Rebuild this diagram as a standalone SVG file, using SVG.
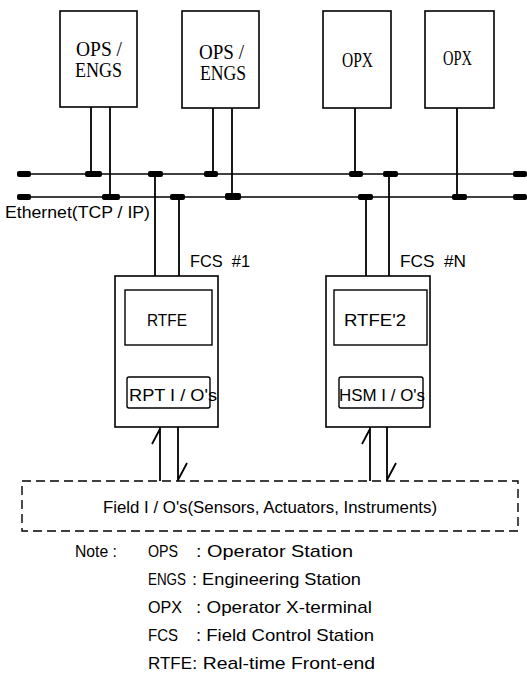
<svg xmlns="http://www.w3.org/2000/svg" width="527" height="680" viewBox="0 0 527 680">
<style>
.box{fill:#fff;stroke:#000;stroke-width:1.6}
.ibox{fill:none;stroke:#000;stroke-width:1.4}
.ln{stroke:#000;stroke-width:1.8;fill:none}
.bus{stroke:#000;stroke-width:1.4;fill:none}
.thin{stroke:#000;stroke-width:1.3;fill:none}
.tap{fill:#000}
.dash{fill:none;stroke:#000;stroke-width:1.4;stroke-dasharray:9 5}
.serif{font-family:"Liberation Serif","DejaVu Serif",serif;font-size:20px;fill:#000}
.sans{font-family:"Liberation Sans","DejaVu Sans",sans-serif;font-size:17px;fill:#000}
</style>
<g id="connectors">
  <line class="bus" x1="17" y1="174" x2="527" y2="174"/>
  <line class="bus" x1="17" y1="197" x2="527" y2="197"/>
  <rect class="tap" x="17" y="171" width="14" height="6" rx="2"/>
  <rect class="tap" x="17" y="194" width="14" height="6" rx="2"/>
  <rect class="tap" x="513" y="171" width="14" height="6" rx="2"/>
  <rect class="tap" x="513" y="194" width="14" height="6" rx="2"/>
  <rect class="tap" x="85" y="171" width="17" height="6" rx="2"/>
  <rect class="tap" x="148" y="171" width="15" height="6" rx="2"/>
  <rect class="tap" x="204" y="171" width="14" height="6" rx="2"/>
  <rect class="tap" x="349" y="171" width="14" height="6" rx="2"/>
  <rect class="tap" x="383" y="171" width="15" height="6" rx="2"/>
  <rect class="tap" x="102" y="194" width="18" height="6" rx="2"/>
  <rect class="tap" x="170" y="194" width="15" height="6" rx="2"/>
  <rect class="tap" x="225" y="193" width="16" height="7" rx="2"/>
  <rect class="tap" x="358" y="194" width="15" height="6" rx="2"/>
  <rect class="tap" x="452" y="194" width="15" height="6" rx="2"/>
  <line class="ln" x1="91" y1="107" x2="91" y2="174"/>
  <line class="ln" x1="110" y1="107" x2="110" y2="197"/>
  <line class="ln" x1="213" y1="108" x2="213" y2="174"/>
  <line class="ln" x1="232" y1="108" x2="232" y2="197"/>
  <line class="ln" x1="355" y1="108" x2="355" y2="174"/>
  <line class="ln" x1="457" y1="108" x2="457" y2="197"/>
  <line class="ln" x1="155" y1="174" x2="155" y2="276"/>
  <line class="ln" x1="179" y1="197" x2="179" y2="276"/>
  <line class="ln" x1="366" y1="197" x2="366" y2="276"/>
  <line class="ln" x1="389" y1="174" x2="389" y2="276"/>
  <line class="thin" x1="166" y1="345" x2="166" y2="377"/>
  <line class="ln" x1="375" y1="345" x2="375" y2="377"/>
  <line class="ln" x1="388" y1="345" x2="388" y2="377"/>
  <path class="ln" d="M160 481 V427 M160 429 L152 444"/>
  <path class="ln" d="M178 427 V481 M178 480 L187 463"/>
  <path class="ln" d="M370 481 V427 M370 429 L362 444"/>
  <path class="ln" d="M387 427 V481 M387 480 L396 463"/>
</g>
<g id="ops1">
  <rect class="box" x="60" y="11" width="77" height="96"/>
  <text class="serif" x="76" y="56" textLength="46" lengthAdjust="spacingAndGlyphs">OPS /</text>
  <text class="serif" x="75" y="77" textLength="47" lengthAdjust="spacingAndGlyphs">ENGS</text>
</g>
<g id="ops2">
  <rect class="box" x="182" y="11" width="77" height="97"/>
  <text class="serif" x="199" y="59" textLength="45" lengthAdjust="spacingAndGlyphs">OPS /</text>
  <text class="serif" x="200" y="80" textLength="46" lengthAdjust="spacingAndGlyphs">ENGS</text>
</g>
<g id="opx1">
  <rect class="box" x="323" y="11" width="68" height="97"/>
  <text class="serif" x="342" y="67" textLength="31" lengthAdjust="spacingAndGlyphs">OPX</text>
</g>
<g id="opx2">
  <rect class="box" x="425" y="11" width="69" height="97"/>
  <text class="serif" x="443" y="65" textLength="29" lengthAdjust="spacingAndGlyphs">OPX</text>
</g>
<g id="ethernet">
  <text class="sans" x="5" y="218" textLength="145" lengthAdjust="spacingAndGlyphs">Ethernet(TCP / IP)</text>
</g>
<g id="fcs1">
  <text class="sans" x="190" y="267" textLength="60" lengthAdjust="spacingAndGlyphs" xml:space="preserve">FCS  #1</text>
  <rect class="box" x="115" y="276" width="103" height="151"/>
  <rect class="ibox" x="125" y="290" width="87" height="55"/>
  <text class="sans" x="147" y="326" textLength="40" lengthAdjust="spacingAndGlyphs">RTFE</text>
  <rect class="ibox" x="127" y="377" width="83" height="31" rx="2"/>
  <text class="sans" x="129" y="401" textLength="88" lengthAdjust="spacingAndGlyphs">RPT I / O's</text>
</g>
<g id="fcsn">
  <text class="sans" x="400" y="267" textLength="66" lengthAdjust="spacingAndGlyphs" xml:space="preserve">FCS  #N</text>
  <rect class="box" x="326" y="276" width="104" height="151"/>
  <rect class="ibox" x="334" y="290" width="93" height="55"/>
  <text class="sans" x="344" y="326" textLength="62" lengthAdjust="spacingAndGlyphs">RTFE'2</text>
  <rect class="ibox" x="339" y="377" width="84" height="31" rx="2"/>
  <text class="sans" x="339" y="401" textLength="86" lengthAdjust="spacingAndGlyphs">HSM I / O's</text>
</g>
<g id="field">
  <rect class="dash" x="22" y="481" width="496" height="50"/>
  <text class="sans" x="103" y="513" textLength="334" lengthAdjust="spacingAndGlyphs">Field I / O's(Sensors, Actuators, Instruments)</text>
</g>
<g id="notes">
  <text class="sans" x="75" y="557" textLength="42" lengthAdjust="spacingAndGlyphs">Note :</text>
  <text class="sans" x="148" y="557" textLength="30" lengthAdjust="spacingAndGlyphs">OPS</text>
  <text class="sans" x="196" y="557" textLength="157" lengthAdjust="spacingAndGlyphs">: Operator Station</text>
  <text class="sans" x="148" y="585" textLength="38" lengthAdjust="spacingAndGlyphs">ENGS</text>
  <text class="sans" x="192" y="585" textLength="169" lengthAdjust="spacingAndGlyphs">: Engineering Station</text>
  <text class="sans" x="148" y="613" textLength="34" lengthAdjust="spacingAndGlyphs">OPX</text>
  <text class="sans" x="196" y="613" textLength="176" lengthAdjust="spacingAndGlyphs">: Operator X-terminal</text>
  <text class="sans" x="148" y="641" textLength="30" lengthAdjust="spacingAndGlyphs">FCS</text>
  <text class="sans" x="196" y="641" textLength="178" lengthAdjust="spacingAndGlyphs">: Field Control Station</text>
  <text class="sans" x="148" y="669" textLength="44" lengthAdjust="spacingAndGlyphs">RTFE</text>
  <text class="sans" x="192" y="669" textLength="183" lengthAdjust="spacingAndGlyphs">: Real-time Front-end</text>
</g>
</svg>
